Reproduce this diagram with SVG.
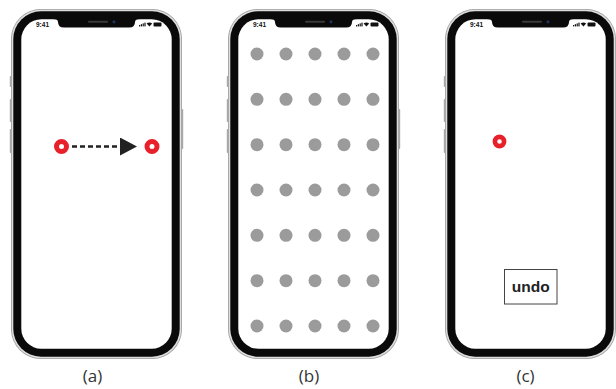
<svg xmlns="http://www.w3.org/2000/svg" xmlns:xlink="http://www.w3.org/1999/xlink" width="616" height="389" viewBox="0 0 616 389">
<style>
.ring{fill:#fff;stroke:#e8202a;stroke-width:5}
.dot{fill:#9b9b9b}
.lbl{font-family:"Open Sans","Liberation Sans",sans-serif;font-size:17px;fill:#333;text-anchor:middle}
.status{font-family:"Liberation Sans",Arial,sans-serif;font-size:6.5px;font-weight:bold;fill:#111}
.undo{font-family:"Liberation Sans",Arial,sans-serif;font-size:15.5px;font-weight:bold;fill:#222;text-anchor:middle}
.side{fill:#a8a8a8}
</style>
<defs>
<symbol id="phone" viewBox="0 0 171 350" width="171" height="350" overflow="visible">
<rect class="side" x="-1.2" y="67" width="2.4" height="11" rx="0.8"/>
<rect class="side" x="-1.2" y="90" width="2.4" height="23" rx="0.8"/>
<rect class="side" x="-1.2" y="120" width="2.4" height="24" rx="0.8"/>
<rect class="side" x="169.8" y="100" width="2.4" height="40" rx="0.8"/>
<rect x="0" y="0" width="171" height="350" rx="30" fill="#9c9c9c"/>
<rect x="0.8" y="0.8" width="169.4" height="348.4" rx="29.2" fill="#dedede"/>
<rect x="2.3" y="2.3" width="166.4" height="345.4" rx="27.7" fill="#0a0a0a"/>
<rect x="10.3" y="10.3" width="150.4" height="329.4" rx="20" fill="#fff"/>
<path d="M42,10 Q47,10 47,13 Q47,18.5 53,18.5 H118 Q124,18.5 124,13 Q124,10 129,10 Z" fill="#0a0a0a"/>
<rect x="77" y="11.8" width="20" height="2" rx="1" fill="#3a3a3a"/>
<circle cx="103" cy="12.8" r="1.6" fill="#1f3358"/>
<text class="status" x="25" y="18">9:41</text>
<rect x="128" y="16" width="1.2" height="1.4" fill="#111"/>
<rect x="129.8" y="15.2" width="1.2" height="2.2" fill="#111"/>
<rect x="131.6" y="14.4" width="1.2" height="3" fill="#111"/>
<rect x="133.4" y="13.6" width="1.2" height="3.8" fill="#111"/>
<path d="M135.6,14.6 Q138.4,12.2 141.2,14.6 L138.4,17.6 Z" fill="#111"/>
<rect x="142.5" y="13.6" width="8" height="3.8" rx="1" fill="#111"/>
</symbol>
<marker id="arrow" markerUnits="userSpaceOnUse" markerWidth="17" markerHeight="18" viewBox="0 0 17 18" refX="0" refY="9" orient="auto">
<path d="M0,0 L17,9 L0,18 Z" fill="#222"/>
</marker>
</defs>

<g id="phone-a">
<use xlink:href="#phone" href="#phone" x="11" y="9"/>
<circle class="ring" cx="61.5" cy="146.5" r="5"/>
<circle class="ring" cx="152" cy="146.5" r="5"/>
<text class="lbl" x="92.5" y="382">(a)</text>
</g>

<g id="phone-b">
<use xlink:href="#phone" href="#phone" x="228" y="9"/>
<g id="dots">
<circle class="dot" cx="257" cy="54" r="6.5"/><circle class="dot" cx="286" cy="54" r="6.5"/><circle class="dot" cx="315" cy="54" r="6.5"/><circle class="dot" cx="344" cy="54" r="6.5"/><circle class="dot" cx="373" cy="54" r="6.5"/>
<circle class="dot" cx="257" cy="99.3" r="6.5"/><circle class="dot" cx="286" cy="99.3" r="6.5"/><circle class="dot" cx="315" cy="99.3" r="6.5"/><circle class="dot" cx="344" cy="99.3" r="6.5"/><circle class="dot" cx="373" cy="99.3" r="6.5"/>
<circle class="dot" cx="257" cy="144.7" r="6.5"/><circle class="dot" cx="286" cy="144.7" r="6.5"/><circle class="dot" cx="315" cy="144.7" r="6.5"/><circle class="dot" cx="344" cy="144.7" r="6.5"/><circle class="dot" cx="373" cy="144.7" r="6.5"/>
<circle class="dot" cx="257" cy="190" r="6.5"/><circle class="dot" cx="286" cy="190" r="6.5"/><circle class="dot" cx="315" cy="190" r="6.5"/><circle class="dot" cx="344" cy="190" r="6.5"/><circle class="dot" cx="373" cy="190" r="6.5"/>
<circle class="dot" cx="257" cy="235.3" r="6.5"/><circle class="dot" cx="286" cy="235.3" r="6.5"/><circle class="dot" cx="315" cy="235.3" r="6.5"/><circle class="dot" cx="344" cy="235.3" r="6.5"/><circle class="dot" cx="373" cy="235.3" r="6.5"/>
<circle class="dot" cx="257" cy="280.7" r="6.5"/><circle class="dot" cx="286" cy="280.7" r="6.5"/><circle class="dot" cx="315" cy="280.7" r="6.5"/><circle class="dot" cx="344" cy="280.7" r="6.5"/><circle class="dot" cx="373" cy="280.7" r="6.5"/>
<circle class="dot" cx="257" cy="326" r="6.5"/><circle class="dot" cx="286" cy="326" r="6.5"/><circle class="dot" cx="315" cy="326" r="6.5"/><circle class="dot" cx="344" cy="326" r="6.5"/><circle class="dot" cx="373" cy="326" r="6.5"/>
</g>
<text class="lbl" x="309" y="382">(b)</text>
</g>

<g id="phone-c">
<use xlink:href="#phone" href="#phone" x="445" y="9"/>
<circle class="ring" cx="499.5" cy="141.5" r="4.6" style="stroke-width:4.6"/>
<g id="undo-button">
<rect x="504.5" y="269.5" width="52.5" height="34.5" fill="#fff" stroke="#444" stroke-width="1"/>
<text class="undo" x="530.8" y="292">undo</text>
</g>
<text class="lbl" x="525.5" y="382">(c)</text>
</g>

<g id="connectors">
<line x1="72" y1="146.5" x2="120" y2="146.5" stroke="#222" stroke-width="2.4" stroke-dasharray="5 3" marker-end="url(#arrow)"/>
</g>
</svg>
